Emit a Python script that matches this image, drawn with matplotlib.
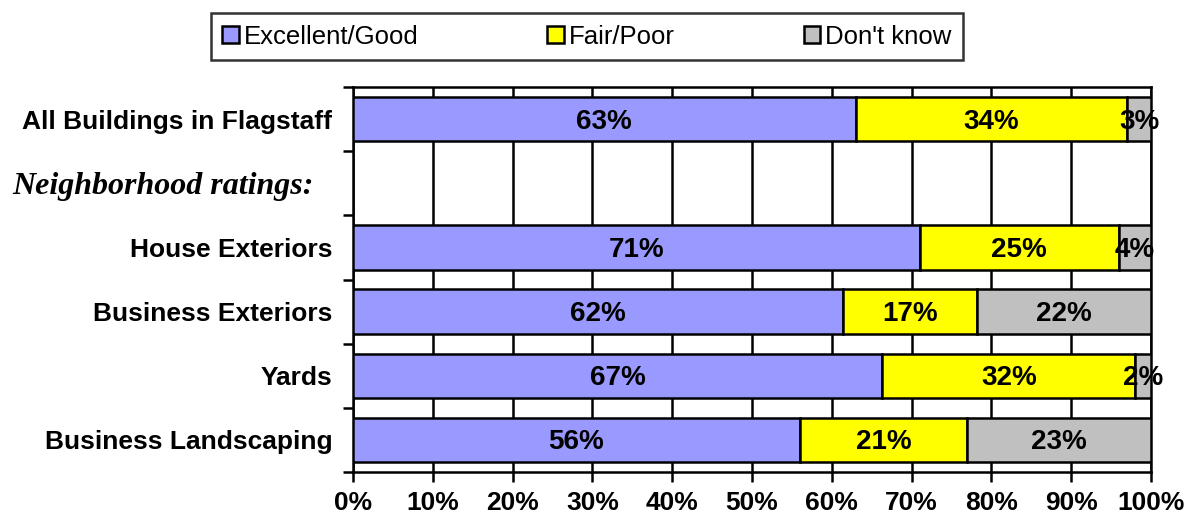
import numpy as np
import matplotlib.pyplot as plt
from matplotlib.transforms import blended_transform_factory

plt.rcParams["font.family"] = ["Liberation Sans", "DejaVu Sans"]

# rows from top to bottom; the header row has no bars
categories = [
    "All Buildings in Flagstaff",
    "Neighborhood ratings:",
    "House Exteriors",
    "Business Exteriors",
    "Yards",
    "Business Landscaping",
]
header_row = 1
series_names = ["Excellent/Good", "Fair/Poor", "Don't know"]
excellent_good = [63, 0, 71, 62, 67, 56]
fair_poor = [34, 0, 25, 17, 32, 21]
dont_know = [3, 0, 4, 22, 2, 23]
colors = ["#9999FF", "#FFFF00", "#C0C0C0"]

vals = np.array([excellent_good, fair_poor, dont_know], dtype=float)
totals = vals.sum(axis=0)
totals[totals == 0] = 1
shares = vals / totals * 100  # 100% stacked

fig = plt.figure(figsize=(11.86, 5.23), dpi=100)
ax = fig.add_axes([353 / 1186, 1 - 472 / 523, 798 / 1186, 385 / 523])

lw = 1.8
y = np.arange(len(categories))
left = np.zeros(len(categories))
for k, name in enumerate(series_names):
    mask = np.arange(len(categories)) != header_row
    ax.barh(y[mask], shares[k][mask], left=left[mask], height=0.69,
            color=colors[k], edgecolor="black", linewidth=lw, label=name, zorder=3)
    for i in y[mask]:
        ax.text(left[i] + shares[k][i] / 2, i + 0.04, f"{vals[k][i]:.0f}%",
                ha="center", va="center", fontsize=20, fontweight="bold", zorder=4)
    left = left + shares[k]

ax.set_xlim(0, 100)
ax.set_ylim(len(categories) - 0.5, -0.5)
ax.set_xticks(np.arange(0, 101, 10))
ax.set_xticklabels([f"{v}%" for v in range(0, 101, 10)], fontsize=19, fontweight="bold")
ax.xaxis.grid(True, color="black", linewidth=lw, zorder=0)
ax.set_axisbelow(True)
ax.tick_params(axis="x", length=7, width=lw, pad=7)

ax.set_yticks(y)
ax.set_yticklabels([c if i != header_row else "" for i, c in enumerate(categories)],
                   fontsize=19, fontweight="bold")
ax.set_yticks(np.arange(-0.5, len(categories), 1), minor=True)
ax.tick_params(axis="y", which="major", length=0, pad=15)
ax.tick_params(axis="y", which="minor", length=7, width=lw)

trans = blended_transform_factory(fig.transFigure, ax.transData)
ax.text(12 / 1186, header_row + 0.05, categories[header_row], transform=trans,
        ha="left", va="center", fontsize=23, fontweight="bold", fontstyle="italic",
        family=["Liberation Serif", "DejaVu Serif"])

for s in ax.spines.values():
    s.set_linewidth(lw)
    s.set_color("black")

leg = fig.legend(loc="center", bbox_to_anchor=(587 / 1186, 1 - 36.5 / 523), ncol=3,
                 frameon=True, fancybox=False, edgecolor="black", fontsize=18.5,
                 handlelength=0.65, handleheight=0.65, handletextpad=0.2,
                 columnspacing=5.0, borderpad=0.45, borderaxespad=0)
leg.get_frame().set_linewidth(lw)

plt.savefig("out.png", dpi=100)
